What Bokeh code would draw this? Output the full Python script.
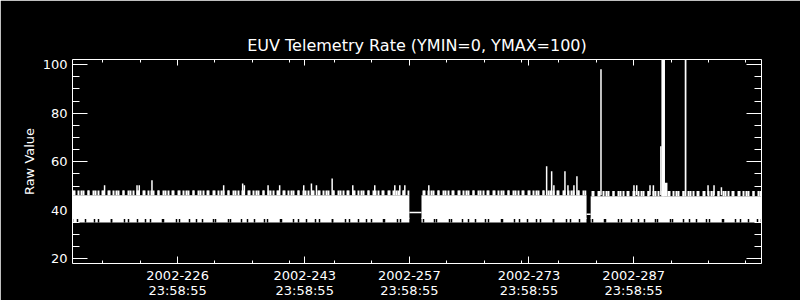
from bokeh.plotting import figure
from bokeh.models import Range1d, LinearAxis, FixedTicker
from bokeh.embed import file_html
from bokeh.resources import INLINE

# ---- axis definitions (x = day of year 2002) ----
tick_days = [226, 243, 257, 273, 287]
tick_labels = ["2002-226\n23:58:55", "2002-243\n23:58:55", "2002-257\n23:58:55",
               "2002-273\n23:58:55", "2002-287\n23:58:55"]
minor_days = [216, 221, 226, 231, 236, 241, 247, 252, 257, 262, 267, 272,
              277, 282, 287, 292, 297, 302]
y_ticks = [20, 40, 60, 80, 100]
y_minor = [20, 25, 30, 35, 40, 45, 50, 55, 60, 65, 70, 75, 80, 85, 90, 95, 100]
x_min, x_max = 211.94, 304.10
y_min, y_max = 18.1, 102.1

# ---- dense telemetry band: envelope per continuous data segment ----
seg_start = [211.94, 258.62, 281.25]
seg_end = [257.00, 280.70, 304.10]
seg_low = [35.0, 35.0, 35.0]      # lowest raw value
seg_notch = [36.9, 36.9, 36.9]    # top of the ragged lower fringe
seg_core = [46.2, 46.2, 45.8]     # top of the solid core
seg_fringe = [48.2, 48.2, 48.0]   # top of the ragged upper fringe

# ---- flat fill values across the data gaps ----
gap_start = [257.00, 280.70]
gap_end = [258.62, 281.25]
gap_level = [39.1, 38.4]

# ---- isolated spikes above the band ----
spike_day = [216.23, 220.57, 220.87, 222.57, 232.16, 234.70, 234.93, 238.10,
             239.65, 242.87, 243.90, 244.57, 246.67, 249.43, 252.37, 255.05,
             255.72, 256.39, 259.60, 275.36, 276.03, 276.33, 277.81, 278.21,
             279.01, 279.41, 282.63, 287.04, 287.41, 289.19, 289.64, 290.64,
             296.95, 297.75, 298.74]
spike_val = [50.3, 50.3, 50.3, 52.4, 50.3, 51.0, 50.3, 50.3,
             50.3, 50.3, 51.0, 50.3, 53.1, 50.3, 50.3, 50.3,
             50.3, 50.3, 50.3, 58.1, 56.1, 50.3, 56.1, 50.3,
             50.3, 54.0, 98.1, 50.3, 50.3, 50.3, 50.3, 66.4,
             50.3, 50.3, 49.5]

# ---- dense bursts (values run off the top of the scale) ----
burst_start = [290.71, 291.19, 293.83]
burst_end = [291.19, 291.52, 294.06]
burst_top = [150.0, 51.3, 150.0]

FONT = "DejaVu Sans"

p = figure(width=800, height=300, output_backend="svg", toolbar_location=None,
           x_range=Range1d(x_min, x_max), y_range=Range1d(y_min, y_max),
           min_border_left=72, min_border_right=39, min_border_top=59,
           min_border_bottom=37)
p.background_fill_color = "black"
p.border_fill_color = "black"
p.outline_line_color = None
p.xgrid.visible = False
p.ygrid.visible = False

# band: ragged lower fringe (white with sparse black notches)
p.quad(left=seg_start, right=seg_end, bottom=seg_low, top=seg_notch,
       fill_color="white", line_color=None, hatch_color="black",
       hatch_pattern="vertical_line", hatch_scale=13, hatch_weight=1.5)
p.quad(left=seg_start, right=seg_end, bottom=seg_low, top=seg_notch,
       fill_alpha=0, line_color=None, hatch_color="black",
       hatch_pattern="vertical_line", hatch_scale=17, hatch_weight=1.5)
# solid core (drawn slightly overlapping the fringe to avoid a seam)
p.quad(left=seg_start, right=seg_end, bottom=[v - 0.5 for v in seg_notch],
       top=seg_core, fill_color="white", line_color=None)
# ragged upper fringe
p.quad(left=seg_start, right=seg_end, bottom=seg_core, top=seg_fringe,
       fill_alpha=0, line_color=None, hatch_color="white",
       hatch_pattern="vertical_line", hatch_scale=5, hatch_weight=2)
p.quad(left=seg_start, right=seg_end, bottom=seg_core, top=seg_fringe,
       fill_alpha=0, line_color=None, hatch_color="white",
       hatch_pattern="vertical_line", hatch_scale=7, hatch_weight=2)
p.segment(x0=gap_start, y0=gap_level, x1=gap_end, y1=gap_level,
          line_color="white", line_width=1.5)
base = [seg_core[0]] * len(spike_day)
p.segment(x0=spike_day, y0=base, x1=spike_day, y1=spike_val,
          line_color="white", line_width=1.5)
p.quad(left=burst_start, right=burst_end, bottom=[seg_core[2]] * len(burst_start),
       top=burst_top, fill_color="white", line_color=None)


def style_axis(ax, major_in, minor_in, labels):
    ax.axis_line_color = "white"
    ax.axis_line_width = 1
    ax.major_tick_line_color = "white"
    ax.minor_tick_line_color = "white"
    ax.major_tick_in = major_in
    ax.major_tick_out = 0
    ax.minor_tick_in = minor_in
    ax.minor_tick_out = 0
    ax.major_label_text_color = "white"
    ax.major_label_text_font = FONT
    if labels:
        ax.major_label_text_font_size = "13px"
        ax.major_label_standoff = 4
    else:
        ax.major_label_text_font_size = "0px"
        ax.major_label_standoff = 0


xt = FixedTicker(ticks=tick_days, minor_ticks=minor_days)
yt = FixedTicker(ticks=y_ticks, minor_ticks=y_minor)

xb = p.xaxis[0]
xb.ticker = xt
xb.major_label_overrides = {d: lab for d, lab in zip(tick_days, tick_labels)}
style_axis(xb, 7, 3, True)
xb.major_label_text_line_height = 1.0

yl = p.yaxis[0]
yl.ticker = yt
style_axis(yl, 15, 7, True)
yl.major_label_standoff = 5
yl.axis_label = "Raw Value"
yl.axis_label_text_color = "white"
yl.axis_label_text_font = FONT
yl.axis_label_text_font_size = "13px"
yl.axis_label_text_font_style = "normal"
yl.axis_label_standoff = 3

xa = LinearAxis(ticker=xt)
xa.major_label_overrides = {d: "" for d in tick_days}
style_axis(xa, 6, 3, False)
p.add_layout(xa, "above")

yr = LinearAxis(ticker=yt)
yr.major_label_overrides = {v: "" for v in y_ticks}
style_axis(yr, 15, 7, False)
p.add_layout(yr, "right")

p.title.text = "EUV Telemetry Rate (YMIN=0, YMAX=100)"
p.title.align = "center"
p.title.text_color = "white"
p.title.text_font = FONT
p.title.text_font_size = "16px"
p.title.text_font_style = "normal"

open("out.html", "w").write(file_html(p, INLINE))
